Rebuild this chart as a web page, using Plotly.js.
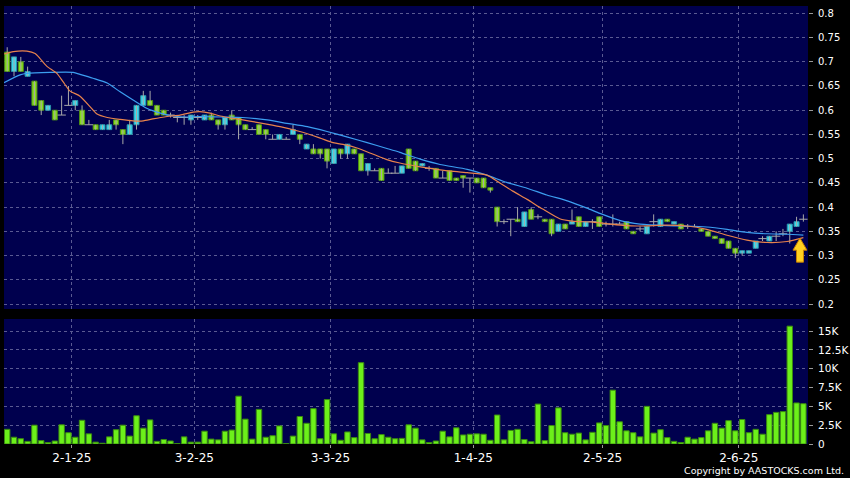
<!DOCTYPE html>
<html><head><meta charset="utf-8">
<script src="https://cdn.plot.ly/plotly-3.0.1.min.js"></script>
<style>html,body{margin:0;padding:0;background:#000;} #chart{width:850px;height:478px;}</style>
</head><body><div id="chart"></div>
<script>
// ---- Price data (one entry per trading day) ----
const openP  = [0.72,0.68,0.70,0.67,0.66,0.62,0.60,0.60,0.59,0.61, 0.61,0.60,0.57,0.57,0.56,0.56,0.58,0.56,0.55,0.57,
                0.61,0.62,0.61,0.60,0.59,0.585,0.585,0.58,0.585,0.58, 0.59,0.58,0.57,0.59,0.585,0.57,0.56,0.57,0.56,0.54,
                0.54,0.54,0.55,0.55,0.52,0.52,0.52,0.52,0.49,0.52, 0.51,0.52,0.51,0.475,0.475,0.48,0.47,0.47,0.47,0.52,
                0.495,0.485,0.48,0.48,0.46,0.475,0.46,0.465,0.46,0.46, 0.46,0.44,0.40,0.37,0.375,0.375,0.36,0.395,0.38,0.375,
                0.375,0.35,0.365,0.365,0.38,0.36,0.37,0.38,0.365,0.365, 0.365,0.37,0.35,0.355,0.345,0.37,0.36,0.375,0.365,0.365,
                0.36,0.36,0.355,0.35,0.34,0.335,0.33,0.315,0.305,0.305, 0.315,0.335,0.33,0.34,0.345,0.35,0.36,0.375];
const highP  = [0.73,0.71,0.71,0.69,0.66,0.62,0.61,0.60,0.63,0.65, 0.62,0.61,0.58,0.57,0.57,0.58,0.58,0.56,0.58,0.61,
                0.64,0.64,0.61,0.60,0.595,0.59,0.59,0.59,0.59,0.59, 0.595,0.58,0.585,0.60,0.585,0.57,0.565,0.57,0.56,0.55,
                0.55,0.545,0.57,0.55,0.53,0.53,0.52,0.52,0.52,0.52, 0.53,0.52,0.51,0.49,0.48,0.48,0.48,0.485,0.485,0.52,
                0.495,0.49,0.485,0.48,0.475,0.475,0.46,0.465,0.46,0.46, 0.46,0.44,0.40,0.375,0.375,0.40,0.39,0.40,0.385,0.375,
                0.375,0.365,0.365,0.395,0.38,0.37,0.375,0.38,0.37,0.385, 0.37,0.37,0.35,0.36,0.36,0.385,0.375,0.375,0.37,0.365,
                0.365,0.365,0.355,0.35,0.34,0.335,0.33,0.315,0.31,0.31, 0.33,0.34,0.34,0.35,0.355,0.365,0.38,0.385];
const lowP   = [0.68,0.67,0.68,0.67,0.61,0.59,0.60,0.58,0.59,0.61, 0.60,0.57,0.57,0.56,0.56,0.56,0.56,0.53,0.55,0.56,
                0.61,0.61,0.59,0.59,0.585,0.575,0.57,0.57,0.58,0.58, 0.58,0.56,0.56,0.58,0.54,0.56,0.56,0.55,0.54,0.54,
                0.54,0.54,0.55,0.53,0.52,0.51,0.50,0.48,0.49,0.50, 0.50,0.51,0.475,0.465,0.475,0.455,0.47,0.47,0.47,0.48,
                0.475,0.485,0.475,0.46,0.46,0.455,0.455,0.44,0.43,0.45, 0.44,0.43,0.36,0.365,0.34,0.37,0.36,0.375,0.375,0.37,
                0.34,0.35,0.355,0.365,0.36,0.36,0.355,0.36,0.36,0.36, 0.365,0.355,0.345,0.35,0.345,0.36,0.36,0.37,0.365,0.355,
                0.355,0.36,0.35,0.34,0.335,0.325,0.315,0.295,0.30,0.305, 0.315,0.33,0.33,0.33,0.34,0.325,0.36,0.37];
const closeP = [0.68,0.71,0.68,0.68,0.61,0.60,0.61,0.58,0.59,0.61, 0.62,0.57,0.57,0.56,0.57,0.57,0.57,0.55,0.57,0.61,
                0.63,0.61,0.59,0.59,0.59,0.585,0.585,0.59,0.585,0.59, 0.58,0.57,0.585,0.58,0.57,0.56,0.56,0.55,0.55,0.54,
                0.55,0.54,0.56,0.54,0.53,0.51,0.51,0.495,0.52,0.51, 0.53,0.51,0.475,0.49,0.475,0.455,0.47,0.47,0.485,0.48,
                0.475,0.49,0.48,0.46,0.46,0.455,0.455,0.46,0.46,0.45, 0.44,0.435,0.37,0.37,0.375,0.37,0.39,0.375,0.38,0.37,
                0.345,0.365,0.355,0.37,0.36,0.37,0.37,0.36,0.365,0.365, 0.365,0.355,0.345,0.355,0.36,0.37,0.375,0.37,0.37,0.355,
                0.36,0.36,0.35,0.34,0.335,0.325,0.315,0.305,0.31,0.31, 0.33,0.335,0.34,0.34,0.345,0.365,0.37,0.375];
// ---- Volume (thousands of shares) ----
const volK = [1.95,0.9,0.7,0.35,2.5,0.45,0.2,0.4,2.55,1.5, 0.9,3.15,1.35,0.25,0.1,0.95,1.9,2.5,1.05,3.75,
              2.1,3.2,0.35,0.6,0.4,0.05,0.95,0.25,0.25,1.7, 0.65,0.55,1.7,1.85,6.35,3.3,0.65,4.6,0.9,1.1,
              2.4,0.05,1.05,3.65,2.75,4.7,0.7,5.9,1.35,0.5, 1.6,0.85,10.8,1.4,0.7,1.25,0.9,0.7,0.75,2.55,
              2.1,0.55,0.2,0.4,1.7,0.95,2.15,1.2,1.3,1.35, 1.3,0.5,3.85,0.55,1.8,1.95,0.6,0.3,5.3,0.45,
              2.45,4.8,1.5,1.3,1.45,0.55,1.55,2.8,2.45,7.15, 2.95,1.75,1.5,0.95,5.0,1.45,1.9,0.85,0.35,0.2,
              0.9,0.65,0.85,1.75,2.75,2.1,3.1,1.75,3.25,1.5, 1.95,1.3,3.9,4.2,4.3,15.65,5.45,5.35];
// ---- Moving averages (position in trading days, value) ----
const maShortX = [-0.47,0.9,2.9,4.1,4.8,5.8,7.3,8.2,9.2,10.7,12.2,13.2,14.7,16.6,18.5,20.0,21.4,23.5,25.4,27.3,28.3,29.8,31.3,34.2,37.1,40.1,43.0,45.9,47.9,49.9,51.4,53.8,55.8,57.7,60.7,63.6,67.6,70.5,72.4,74.3,76.4,78.7,81.2,83.1,86.1,88.6,90.1,93.0,96.9,99.9,102.8,105.8,108.7,111.7,114.6,117.0];
const maShortY = [0.716,0.721,0.722,0.717,0.707,0.691,0.676,0.659,0.640,0.629,0.607,0.592,0.585,0.581,0.578,0.578,0.582,0.587,0.590,0.596,0.597,0.594,0.588,0.581,0.574,0.566,0.556,0.543,0.533,0.528,0.522,0.509,0.498,0.491,0.483,0.477,0.471,0.466,0.450,0.433,0.416,0.396,0.376,0.371,0.369,0.365,0.363,0.361,0.363,0.361,0.354,0.342,0.332,0.327,0.329,0.337];
const maLongX  = [-0.47,1.9,2.9,6.3,9.7,10.7,12.6,14.7,16.6,18.5,20.5,22.5,24.4,26.4,28.3,31.3,34.6,38.2,41.1,44.1,47.0,49.9,52.9,55.8,57.7,60.7,63.6,67.6,70.5,73.4,76.4,79.3,82.3,85.2,87.1,90.1,93.0,96.9,99.9,102.8,105.8,108.7,111.7,114.6,117.0];
const maLongY  = [0.657,0.673,0.676,0.678,0.678,0.674,0.666,0.656,0.638,0.621,0.604,0.594,0.588,0.586,0.587,0.586,0.585,0.580,0.573,0.566,0.556,0.545,0.533,0.521,0.513,0.499,0.488,0.478,0.466,0.451,0.439,0.425,0.413,0.398,0.387,0.372,0.365,0.362,0.361,0.359,0.354,0.348,0.345,0.344,0.342];
// ---- Axis labels ----
const tickPos  = [9.5,27.5,47.5,68.5,87.5,107.5];
const tickText = ['2-1-25','3-2-25','3-3-25','1-4-25','2-5-25','2-6-25'];
const volTickVals = [0,2.5,5,7.5,10,12.5,15];
const volTickText = ['0','2.5K','5K','7.5K','10K','12.5K','15K'];
const arrowIndex = 116.5, arrowPrice = 0.336;

// ---- Build traces ----
const idx = openP.map((_, i) => i);
const wickX = [], wickY = [];
const upX = [], upB = [], upH = [], dnX = [], dnB = [], dnH = [], djX = [], djY = [];
idx.forEach(i => {
  wickX.push(i, i, null); wickY.push(lowP[i], highP[i], null);
  const o = openP[i], c = closeP[i];
  if (c > o) { upX.push(i); upB.push(o); upH.push(c - o); }
  else if (c < o) { dnX.push(i); dnB.push(c); dnH.push(o - c); }
  else { djX.push(i); djY.push(o); }
});
const grey = '#a8a8a8';
const traces = [
  {type:'scatter', mode:'lines', x:wickX, y:wickY, line:{color:grey, width:1}, xaxis:'x', yaxis:'y', connectgaps:false},
  {type:'bar', x:upX, y:upH, base:upB, width:0.74, marker:{color:'#3cd8ec', line:{color:'#2a92a8', width:1}}, xaxis:'x', yaxis:'y'},
  {type:'bar', x:dnX, y:dnH, base:dnB, width:0.74, marker:{color:'#86dc1e', line:{color:'#4c8c16', width:1}}, xaxis:'x', yaxis:'y'},
  {type:'scatter', mode:'markers', x:djX, y:djY, marker:{symbol:'line-ew', size:6, line:{color:grey, width:1}}, xaxis:'x', yaxis:'y'},
  {type:'scatter', mode:'lines', x:maLongX, y:maLongY, line:{color:'#3c9ef0', width:1.2, shape:'spline', smoothing:0.6}, xaxis:'x', yaxis:'y'},
  {type:'scatter', mode:'lines', x:maShortX, y:maShortY, line:{color:'#e8834c', width:1.2, shape:'spline', smoothing:0.6}, xaxis:'x', yaxis:'y'},
  {type:'bar', x:idx, y:volK, width:0.8, marker:{color:'#6cf01a', line:{color:'#3a8a10', width:1}}, xaxis:'x', yaxis:'y2'}
];
const gridC = '#5a5a92';
const layout = {
  width:850, height:478,
  paper_bgcolor:'#000000', plot_bgcolor:'#00004e',
  margin:{l:4, r:42, t:6, b:34, pad:0},
  showlegend:false, hovermode:false, barmode:'overlay',
  font:{family:'DejaVu Sans, Verdana, sans-serif', color:'#ffffff', size:10},
  xaxis:{domain:[0,1], anchor:'y2', range:[-0.47,117.68], tickmode:'array', tickvals:tickPos, ticktext:tickText,
         ticks:'outside', ticklen:3, tickcolor:'#999999', tickfont:{size:12, color:'#ffffff'}, ticklabelstandoff:0,
         showgrid:true, gridcolor:gridC, griddash:'3px,3px', gridwidth:1, zeroline:false, showline:false, fixedrange:true},
  yaxis:{domain:[0.3082,1], anchor:'x', side:'right', range:[0.1897,0.8151], dtick:0.05, tick0:0,
         ticks:'outside', ticklen:4, tickcolor:'#999999', tickfont:{size:10, color:'#ffffff'}, ticklabelstandoff:3,
         showgrid:true, gridcolor:gridC, griddash:'3px,3px', gridwidth:1, zeroline:false, showline:false},
  yaxis2:{domain:[0,0.2854], anchor:'x', side:'right', range:[0,16.6], tickmode:'array', tickvals:volTickVals, ticktext:volTickText,
         ticks:'outside', ticklen:4, tickcolor:'#999999', tickfont:{size:10.5, color:'#ffffff'}, ticklabelstandoff:3,
         showgrid:true, gridcolor:gridC, griddash:'3px,3px', gridwidth:1, zeroline:false, showline:false},
  shapes:[{type:'path', xref:'x', yref:'y', xsizemode:'pixel', ysizemode:'pixel', xanchor:arrowIndex, yanchor:arrowPrice,
           path:'M0,0 L7,-12 L3.5,-12 L3.5,-24 L-3.5,-24 L-3.5,-12 L-7,-12 Z',
           fillcolor:'#ffd020', line:{color:'#c88000', width:1}}],
  annotations:[{text:'Copyright by AASTOCKS.com Ltd.', xref:'paper', yref:'paper', x:1.0469, y:-0.0605,
                xanchor:'right', yanchor:'middle', showarrow:false, font:{size:9.5, color:'#ffffff', family:'DejaVu Sans, sans-serif'}}]
};
Plotly.newPlot('chart', traces, layout, {staticPlot:true, displayModeBar:false});
</script>
</body></html>
